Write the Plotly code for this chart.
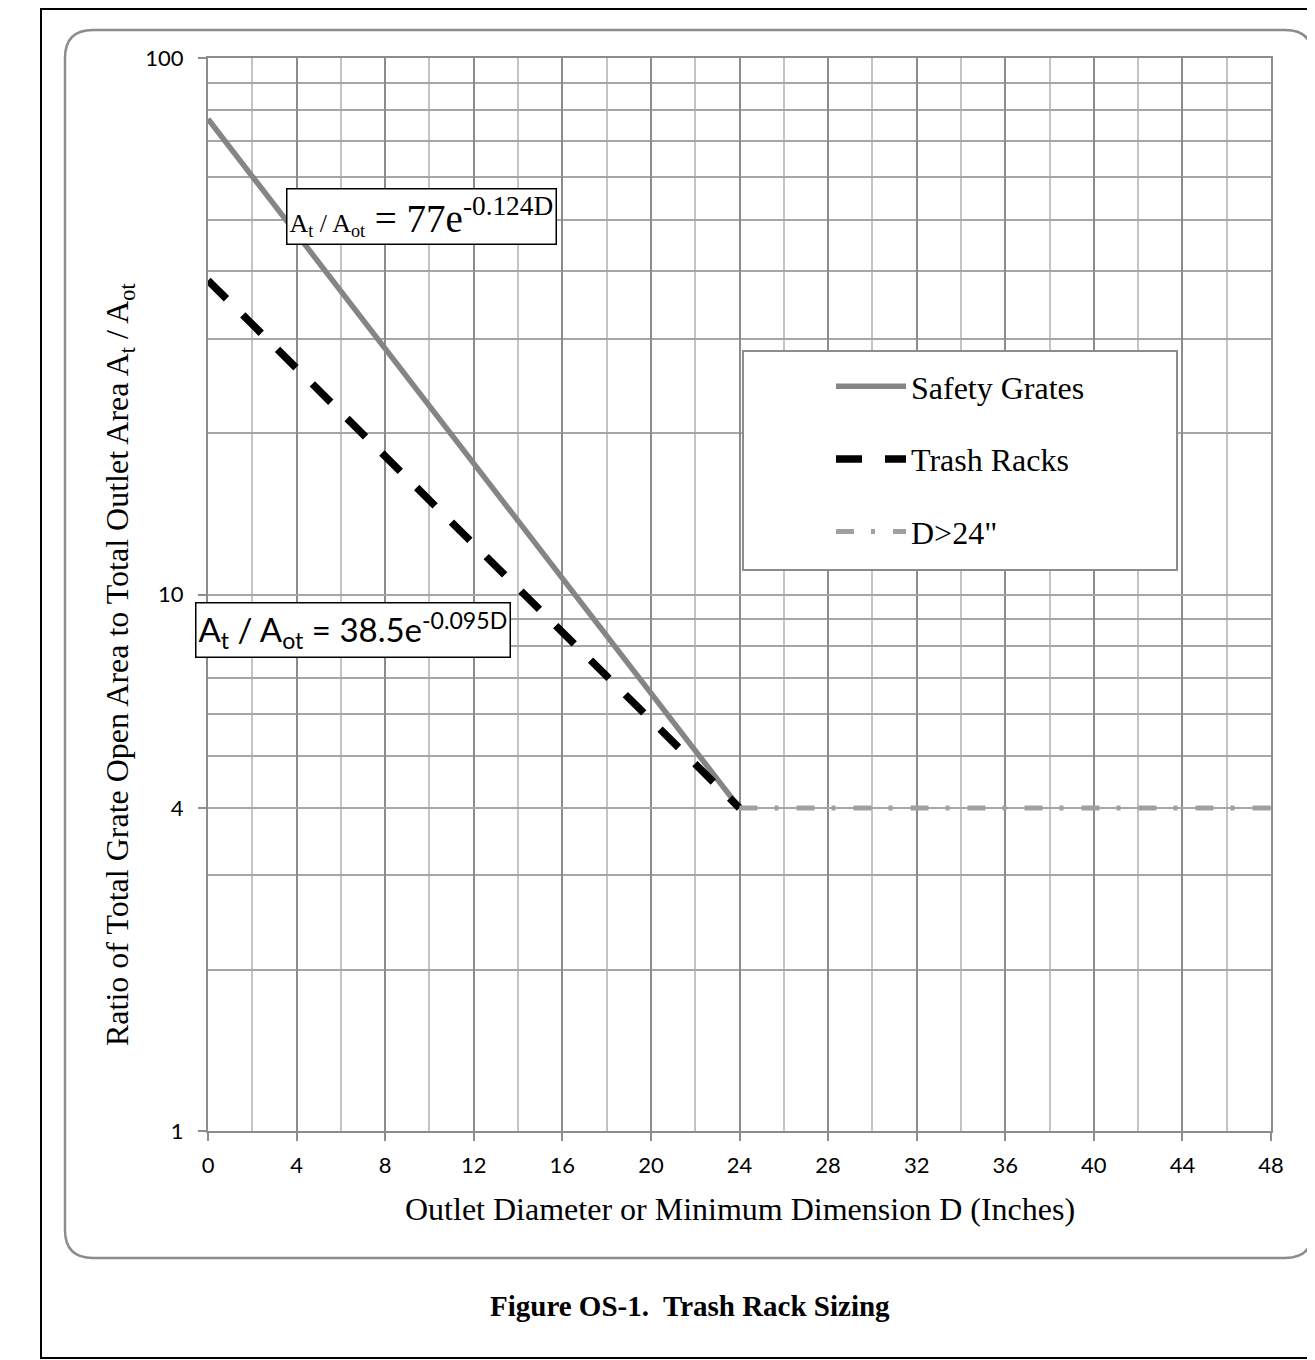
import plotly.graph_objects as go

# ---- data ----
D_safety = [0, 24]
safety_ratio = [77, 4]
D_trash = [0, 24]
trash_ratio = [38.5, 4]
D_large = [24, 48]
large_ratio = [4, 4]

x_ticks = [0, 4, 8, 12, 16, 20, 24, 28, 32, 36, 40, 44, 48]
y_ticks = [1, 4, 10, 100]
y_ticktext = ["1", "4", "10", "100"]
y_minor = [2, 3, 5, 6, 7, 8, 9, 20, 30, 40, 50, 60, 70, 80, 90]

# page offset (browser body margin) and layout geometry in reference pixels
OFF = 8
W, H = 1315 - OFF, 1360 - OFF
PLOT_L, PLOT_R, PLOT_T, PLOT_B = 208, 1271, 58, 1131
L = PLOT_L - OFF
T = PLOT_T - OFF
R = W - (PLOT_R - OFF)
B = H - (PLOT_B - OFF)
PW, PH = PLOT_R - PLOT_L, PLOT_B - PLOT_T


def px(p):
    return (p - PLOT_L) / PW


def py(p):
    return (PLOT_B - p) / PH


SERIF = "Liberation Serif"
SANS = "Lato"

fig = go.Figure()
fig.add_trace(go.Scatter(x=D_safety, y=safety_ratio, mode="lines", name="Safety Grates",
                         line=dict(color="#858585", width=5.5), legendgroup="a"))
fig.add_trace(go.Scatter(x=D_trash, y=trash_ratio, mode="lines", name="Trash Racks",
                         line=dict(color="black", width=7.5, dash="26px,23px"), legendgroup="b"))
fig.add_trace(go.Scatter(x=D_large, y=large_ratio, mode="lines", name='D>24"',
                         line=dict(color="#a0a0a0", width=5, dash="18px,17px,4px,18px"),
                         legendgroup="c"))


def rr_path(x0, y0, x1, y1, r):
    pts = [
        ("M", [(x0 + r, y0)]), ("L", [(x1 - r, y0)]), ("Q", [(x1, y0), (x1, y0 + r)]),
        ("L", [(x1, y1 - r)]), ("Q", [(x1, y1), (x1 - r, y1)]),
        ("L", [(x0 + r, y1)]), ("Q", [(x0, y1), (x0, y1 - r)]),
        ("L", [(x0, y0 + r)]), ("Q", [(x0, y0), (x0 + r, y0)]),
    ]
    s = ""
    for cmd, ps in pts:
        s += cmd + " " + " ".join(f"{px(a):.5f},{py(b):.5f}" for a, b in ps) + " "
    return s + "Z"


shapes = [
    dict(type="rect", xref="paper", yref="paper", x0=px(41), x1=px(1330), y0=py(9), y1=py(1358),
         line=dict(color="black", width=2), layer="below"),
    dict(type="path", xref="paper", yref="paper", path=rr_path(65, 30, 1313, 1258, 28),
         line=dict(color="#8c8c8c", width=2.5), layer="below"),
    dict(type="rect", xref="paper", yref="paper", x0=px(743), x1=px(1177), y0=py(351), y1=py(570),
         line=dict(color="#8c8c8c", width=2), fillcolor="white", layer="above"),
]

annotations = [
    dict(xref="paper", yref="paper", x=px(421.5), y=py(217), xanchor="center", yanchor="middle",
         text='<span style="font-size:26px">A<sub>t</sub> / A<sub>ot</sub></span> = 77e<sup>-0.124D</sup>',
         font=dict(family=SERIF, size=39, color="black"), showarrow=False,
         bgcolor="white", bordercolor="black", borderwidth=1.5, borderpad=2),
    dict(xref="paper", yref="paper", x=px(353), y=py(630), xanchor="center", yanchor="middle",
         text='A<sub>t</sub> / A<sub>ot</sub> = 38.5e<sup>-0.095D</sup>',
         font=dict(family=SANS, size=33, color="black"), showarrow=False,
         bgcolor="white", bordercolor="black", borderwidth=1.5, borderpad=2),
    dict(xref="paper", yref="paper", x=px(690), y=py(1306), xanchor="center", yanchor="middle",
         text="<b>Figure OS-1.  Trash Rack Sizing</b>",
         font=dict(family=SERIF, size=29, color="black"), showarrow=False),
    dict(xref="paper", yref="paper", x=px(740), y=py(1209), xanchor="center", yanchor="middle",
         text="Outlet Diameter or Minimum Dimension D (Inches)",
         font=dict(family=SERIF, size=32, color="black"), showarrow=False),
    dict(xref="paper", yref="paper", x=px(119), y=py(665), xanchor="center", yanchor="middle",
         textangle=-90,
         text="Ratio of Total Grate Open Area to Total Outlet Area A<sub>t</sub> / A<sub>ot</sub>",
         font=dict(family=SERIF, size=32, color="black"), showarrow=False),
]

fig.update_layout(
    width=W, height=H,
    margin=dict(l=L, r=R, t=T, b=B),
    paper_bgcolor="white", plot_bgcolor="white",
    shapes=shapes, annotations=annotations,
    showlegend=True,
    legend=dict(x=px(831), y=py(359), xanchor="left", yanchor="top",
                bgcolor="rgba(0,0,0,0)", borderwidth=0,
                font=dict(family=SERIF, size=32, color="black"),
                itemwidth=70, tracegroupgap=28),
    xaxis=dict(range=[0, 48], tickvals=x_ticks, showgrid=True, gridcolor="#8c8c8c", gridwidth=2,
               zeroline=False, showline=True, linecolor="#8c8c8c", linewidth=2, mirror=True,
               ticks="outside", ticklen=8, tickcolor="#8c8c8c", tickwidth=2,
               tickfont=dict(family=SANS, size=22, color="black"), ticklabelstandoff=6,
               minor=dict(dtick=2, tick0=0, showgrid=True, gridcolor="#c4c4c4", gridwidth=2, ticks="")),
    yaxis=dict(type="log", range=[0, 2], tickvals=y_ticks, ticktext=y_ticktext,
               showgrid=True, gridcolor="#a6a6a6", gridwidth=2,
               zeroline=False, showline=True, linecolor="#8c8c8c", linewidth=2, mirror=True,
               ticks="outside", ticklen=8, tickcolor="#8c8c8c", tickwidth=2,
               tickfont=dict(family=SANS, size=22, color="black"), ticklabelstandoff=10,
               minor=dict(tickvals=y_minor, showgrid=True, gridcolor="#a6a6a6", gridwidth=2, ticks="")),
)

fig.write_html("out.html")
